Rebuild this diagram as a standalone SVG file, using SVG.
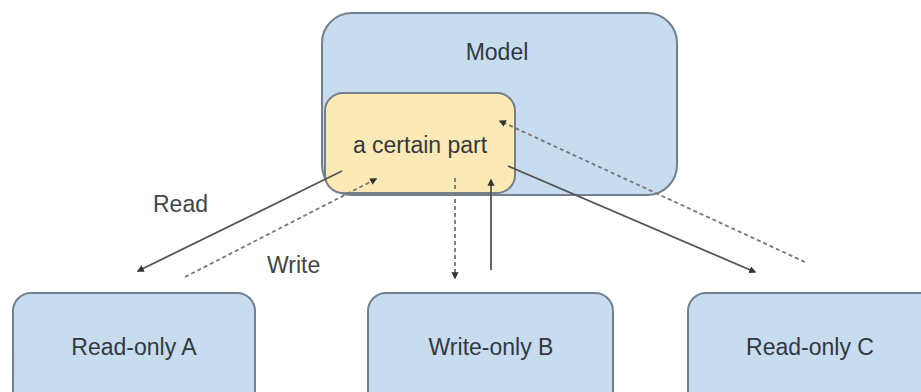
<svg xmlns="http://www.w3.org/2000/svg" width="921" height="392" viewBox="0 0 921 392">
<defs>
<style>
.box{fill:#c8dcf0;stroke:#727f8c;stroke-width:2}
.part{fill:#fde9b6;stroke:#767e88;stroke-width:2}
.t{font-family:"Liberation Sans",Arial,sans-serif;font-size:23px;fill:#333941;text-anchor:middle}
.lbl{font-family:"Liberation Sans",Arial,sans-serif;font-size:23px;fill:#444}
.solid{fill:none;stroke:#555;stroke-width:1.8}
.dash{fill:none;stroke:#777;stroke-width:1.8;stroke-dasharray:4 3}
</style>
<marker id="ah" viewBox="0 0 10 10" refX="8" refY="5" markerWidth="4" markerHeight="4" orient="auto" markerUnits="strokeWidth">
<path d="M0,0 L10,5 L0,10 z" fill="#333"/>
</marker>
</defs>
<rect width="921" height="392" fill="#ffffff"/>
<g id="model">
<rect class="box" x="322" y="13" width="355" height="182" rx="30"/>
<text class="t" x="497" y="60">Model</text>
</g>
<g id="part">
<rect class="part" x="325" y="93" width="190" height="100" rx="18"/>
<text class="t" x="420" y="153">a certain part</text>
</g>
<g id="readA">
<rect class="box" x="13" y="293" width="242" height="120" rx="18"/>
<text class="t" x="134" y="355">Read-only A</text>
</g>
<g id="writeB">
<rect class="box" x="368" y="293" width="245" height="120" rx="18"/>
<text class="t" x="491" y="355">Write-only B</text>
</g>
<g id="readC">
<rect class="box" x="688" y="293" width="260" height="120" rx="18"/>
<text class="t" x="810" y="355">Read-only C</text>
</g>
<g id="connectors">
<line class="solid" x1="342" y1="171" x2="138" y2="271" marker-end="url(#ah)"/>
<line class="dash" x1="185" y1="277" x2="376" y2="179" marker-end="url(#ah)"/>
<line class="dash" x1="455" y1="178" x2="455" y2="278" marker-end="url(#ah)"/>
<line class="solid" x1="491" y1="270" x2="491" y2="180" marker-end="url(#ah)"/>
<line class="solid" x1="508" y1="166" x2="755" y2="272" marker-end="url(#ah)"/>
<line class="dash" x1="805" y1="262" x2="500" y2="121" marker-end="url(#ah)"/>
</g>
<g id="labels">
<text class="lbl" x="153" y="212">Read</text>
<text class="lbl" x="267" y="273">Write</text>
</g>
</svg>
